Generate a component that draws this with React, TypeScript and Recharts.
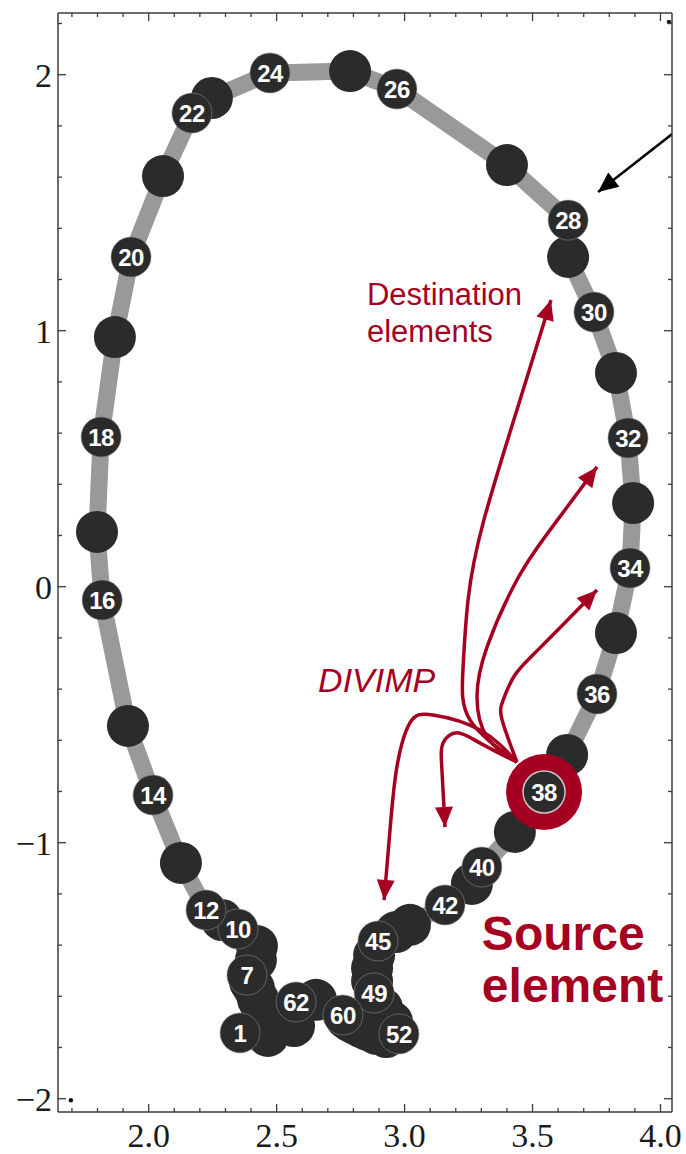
import { ComposedChart, XAxis, YAxis, Line, Scatter } from 'recharts'

const X_DOMAIN: [number, number] = [1.6456, 4.045]
const Y_DOMAIN: [number, number] = [-2.052, 2.241]
const X_TICKS = [1.7, 1.8, 1.9, 2.0, 2.1, 2.2, 2.3, 2.4, 2.5, 2.6, 2.7, 2.8, 2.9, 3.0, 3.1, 3.2, 3.3, 3.4, 3.5, 3.6, 3.7, 3.8, 3.9, 4.0]
const X_LABELS = [2.0, 2.5, 3.0, 3.5, 4.0]
const Y_TICKS = [-2.0, -1.8, -1.6, -1.4, -1.2, -1.0, -0.8, -0.6, -0.4, -0.2, 0, 0.2, 0.4, 0.6, 0.8, 1.0, 1.2, 1.4, 1.6, 1.8, 2.0, 2.2]
const Y_LABELS = [-2, -1, 0, 1, 2]

// wall element centres, element 1..64 in order round the wall
const ELEM_X = [
  2.357, 2.427, 2.443, 2.427, 2.411, 2.396, 2.384, 2.419, 2.423, 2.349,
  2.286, 2.224, 2.126, 2.017, 1.919, 1.818, 1.798, 1.814, 1.868, 1.931,
  2.056, 2.169, 2.247, 2.474, 2.787, 2.970, 3.400, 3.639, 3.639, 3.740,
  3.826, 3.873, 3.893, 3.881, 3.826, 3.752, 3.635, 3.545, 3.431, 3.302,
  3.263, 3.158, 3.021, 2.966, 2.896, 2.881, 2.873, 2.873, 2.881, 2.912,
  2.951, 2.978, 2.928, 2.889, 2.857, 2.830, 2.806, 2.787, 2.771, 2.759,
  2.654, 2.576, 2.568, 2.466,
]
const ELEM_Y = [
  -1.743, -1.724, -1.661, -1.611, -1.568, -1.544, -1.517, -1.458, -1.404, -1.337,
  -1.302, -1.263, -1.079, -0.814, -0.544, -0.052, 0.214, 0.585, 0.975, 1.288,
  1.604, 1.850, 1.909, 2.007, 2.014, 1.944, 1.647, 1.432, 1.288, 1.073,
  0.835, 0.581, 0.327, 0.073, -0.181, -0.419, -0.657, -0.802, -0.958, -1.095,
  -1.161, -1.243, -1.321, -1.349, -1.384, -1.439, -1.490, -1.540, -1.587, -1.646,
  -1.700, -1.747, -1.759, -1.747, -1.732, -1.720, -1.708, -1.697, -1.685, -1.673,
  -1.614, -1.622, -1.716, -1.755,
]
const NUMBERED = [1, 7, 10, 12, 14, 16, 18, 20, 22, 24, 26, 28, 30, 32, 34, 36, 40, 42, 45, 49, 52, 60, 62]
const SOURCE = 38

// DIVIMP tracks leaving element 38
const TRACK_FAR = [[3.439, -0.685], [3.256, -0.521], [3.228, -0.325], [3.248, -0.052], [3.310, 0.261], [3.451, 0.729], [3.572, 1.120]]
const TRACK_32 = [[3.439, -0.685], [3.322, -0.587], [3.283, -0.431], [3.322, -0.236], [3.439, 0.026], [3.568, 0.221], [3.752, 0.468]]
const TRACK_34 = [[3.439, -0.685], [3.381, -0.521], [3.385, -0.443], [3.431, -0.345], [3.529, -0.239], [3.752, -0.013]]
const TRACK_HOOK = [[3.439, -0.685], [3.295, -0.611], [3.205, -0.571], [3.150, -0.611], [3.146, -0.716], [3.158, -0.939]]
const TRACK_DOWN = [[3.439, -0.685], [3.295, -0.560], [3.111, -0.501], [3.021, -0.532], [2.970, -0.704], [2.943, -0.950], [2.920, -1.224]]
const POINTER = [[4.1, 1.811], [3.756, 1.542]]
const CORNER_MARKS = [{ x: 4.033, y: 2.206 }, { x: 1.696, y: -2.006 }]

const DEST_AT = { x: 2.853, y: 1.100 }
const DIVIMP_AT = { x: 2.662, y: -0.411 }
const SOURCE_AT = { x: 3.302, y: -1.419 }

const RED = '#a50021'
const DARK = '#2b2b2b'
const FRAME = '#3c3c3c'
const SERIF = '"Liberation Serif", "Times New Roman", serif'
const SANS = '"Liberation Sans", Arial, sans-serif'

const elements = ELEM_X.map((x, i) => ({ x, y: ELEM_Y[i], n: i + 1 }))
const loop = [...elements, elements[0]]
const plain = elements.filter(e => !NUMBERED.includes(e.n) && e.n !== SOURCE)
const numbered = elements.filter(e => NUMBERED.includes(e.n))
const source = elements.filter(e => e.n === SOURCE)
const rows = (pts: number[][]) => pts.map(([x, y]) => ({ x, y }))

const near = (v: number, list: number[]) => list.some(m => Math.abs(m - v) < 1e-6)
const fmtY = (v: number) => (v < 0 ? '\u2212' + Math.abs(v) : String(v))

const BottomTick = ({ x, y, payload }: any) => {
  const major = near(payload.value, X_LABELS)
  return (
    <g>
      <line x1={x} x2={x} y1={y} y2={y - (major ? 8 : 4)} stroke={FRAME} strokeWidth={1.3} />
      {major && (
        <text x={x} y={y + 35} textAnchor="middle" fontSize={34} fontFamily={SERIF} fill="#1a1a1a">
          {payload.value.toFixed(1)}
        </text>
      )}
    </g>
  )
}
const TopTick = ({ x, y, payload }: any) => (
  <line x1={x} x2={x} y1={y} y2={y + (near(payload.value, X_LABELS) ? 8 : 4)} stroke={FRAME} strokeWidth={1.3} />
)
const LeftTick = ({ x, y, payload }: any) => {
  const major = near(payload.value, Y_LABELS)
  return (
    <g>
      <line x1={x} x2={x + (major ? 8 : 4)} y1={y} y2={y} stroke={FRAME} strokeWidth={1.3} />
      {major && (
        <text x={x - 6} y={y + 12} textAnchor="end" fontSize={34} fontFamily={SERIF} fill="#1a1a1a">
          {fmtY(Math.round(payload.value))}
        </text>
      )}
    </g>
  )
}
const RightTick = ({ x, y, payload }: any) => (
  <line x1={x} x2={x - (near(payload.value, Y_LABELS) ? 8 : 4)} y1={y} y2={y} stroke={FRAME} strokeWidth={1.3} />
)

// arrowhead drawn on the last point of a track, pointing along its final step
const arrowDot = (pts: number[][], color: string, len = 20, half = 9) => (p: any) => {
  if (p.index !== pts.length - 1) return <g key={p.index} />
  const [x0, y0] = pts[pts.length - 2]
  const [x1, y1] = pts[pts.length - 1]
  const a = Math.atan2(-(y1 - y0), x1 - x0)
  const bx = p.cx - len * Math.cos(a)
  const by = p.cy - len * Math.sin(a)
  const nx = -Math.sin(a) * half
  const ny = Math.cos(a) * half
  return (
    <polygon key={p.index} fill={color}
      points={`${p.cx},${p.cy} ${bx + nx},${by + ny} ${bx - nx},${by - ny}`} />
  )
}

const note = (lines: string[], size: number, lh: number, extra: any = {}) => (p: any) => (
  <text x={p.cx} y={p.cy} fill={RED} fontFamily={SANS} fontSize={size} {...extra}>
    {lines.map((l, i) => <tspan key={i} x={p.cx} dy={i === 0 ? 0 : lh}>{l}</tspan>)}
  </text>
)

const numberLabel = (p: any) => (
  <text x={p.cx} y={p.cy} dy="0.36em" textAnchor="middle" fill="#fff" fontFamily={SANS}
    fontWeight="bold" fontSize={24} letterSpacing={-0.5}>{p.payload.n}</text>
)

const tracks = [TRACK_FAR, TRACK_32, TRACK_34, TRACK_HOOK, TRACK_DOWN]

export default function App() {
  return (
    <div style={{ position: 'absolute', left: 0, top: 0, width: 686, height: 1154, background: '#fff' }}>
      <ComposedChart width={686} height={1154} margin={{ top: 0, right: 0, bottom: 0, left: 0 }}>
        <XAxis type="number" dataKey="x" domain={X_DOMAIN} allowDataOverflow ticks={X_TICKS} interval={0}
          height={42} tickSize={0} tickMargin={0} tickLine={false}
          axisLine={{ stroke: FRAME, strokeWidth: 1.5 }} tick={BottomTick} />
        <XAxis xAxisId="top" orientation="top" type="number" dataKey="x" domain={X_DOMAIN} allowDataOverflow
          ticks={X_TICKS} interval={0} height={13} tickSize={0} tickMargin={0} tickLine={false}
          axisLine={{ stroke: FRAME, strokeWidth: 1.5 }} tick={TopTick} />
        <YAxis type="number" dataKey="y" domain={Y_DOMAIN} allowDataOverflow ticks={Y_TICKS} interval={0}
          width={58} tickSize={0} tickMargin={0} tickLine={false}
          axisLine={{ stroke: FRAME, strokeWidth: 1.5 }} tick={LeftTick} />
        <YAxis yAxisId="right" orientation="right" type="number" dataKey="y" domain={Y_DOMAIN} allowDataOverflow
          ticks={Y_TICKS} interval={0} width={14} tickSize={0} tickMargin={0} tickLine={false}
          axisLine={{ stroke: FRAME, strokeWidth: 1.5 }} tick={RightTick} />

        <Line data={loop} dataKey="y" type="linear" stroke="#999999" strokeWidth={17} strokeLinejoin="round"
          dot={false} activeDot={false} isAnimationActive={false} />

        {tracks.map((t, i) => (
          <Line key={i} data={rows(t)} dataKey="y" type="natural" stroke={RED} strokeWidth={3.5}
            dot={arrowDot(t, RED)} activeDot={false} isAnimationActive={false} />
        ))}
        <Line data={rows(POINTER)} dataKey="y" type="linear" stroke="#000" strokeWidth={2.5}
          dot={arrowDot(POINTER, '#000')} activeDot={false} isAnimationActive={false} />

        <Scatter data={plain} isAnimationActive={false}
          shape={(p: any) => <circle cx={p.cx} cy={p.cy} r={21} fill={DARK} />} />
        <Scatter data={numbered} isAnimationActive={false}
          shape={(p: any) => (
            <g>
              <circle cx={p.cx} cy={p.cy} r={20} fill={DARK} stroke="#8a8a8a" strokeWidth={0.6} />
              {numberLabel(p)}
            </g>
          )} />
        <Scatter data={source} isAnimationActive={false}
          shape={(p: any) => (
            <g>
              <circle cx={p.cx} cy={p.cy} r={38} fill={RED} />
              <circle cx={p.cx} cy={p.cy} r={21} fill={DARK} stroke="#c8c8c8" strokeWidth={1.5} />
              {numberLabel(p)}
            </g>
          )} />
        <Scatter data={CORNER_MARKS} isAnimationActive={false}
          shape={(p: any) => <circle cx={p.cx} cy={p.cy} r={2.2} fill="#111" />} />

        <Scatter data={[DEST_AT]} isAnimationActive={false} shape={note(['Destination', 'elements'], 31, 37)} />
        <Scatter data={[DIVIMP_AT]} isAnimationActive={false} shape={note(['DIVIMP'], 34, 0, { fontStyle: 'italic' })} />
        <Scatter data={[SOURCE_AT]} isAnimationActive={false}
          shape={note(['Source', 'element'], 48, 52, { fontWeight: 'bold' })} />
      </ComposedChart>
    </div>
  )
}
